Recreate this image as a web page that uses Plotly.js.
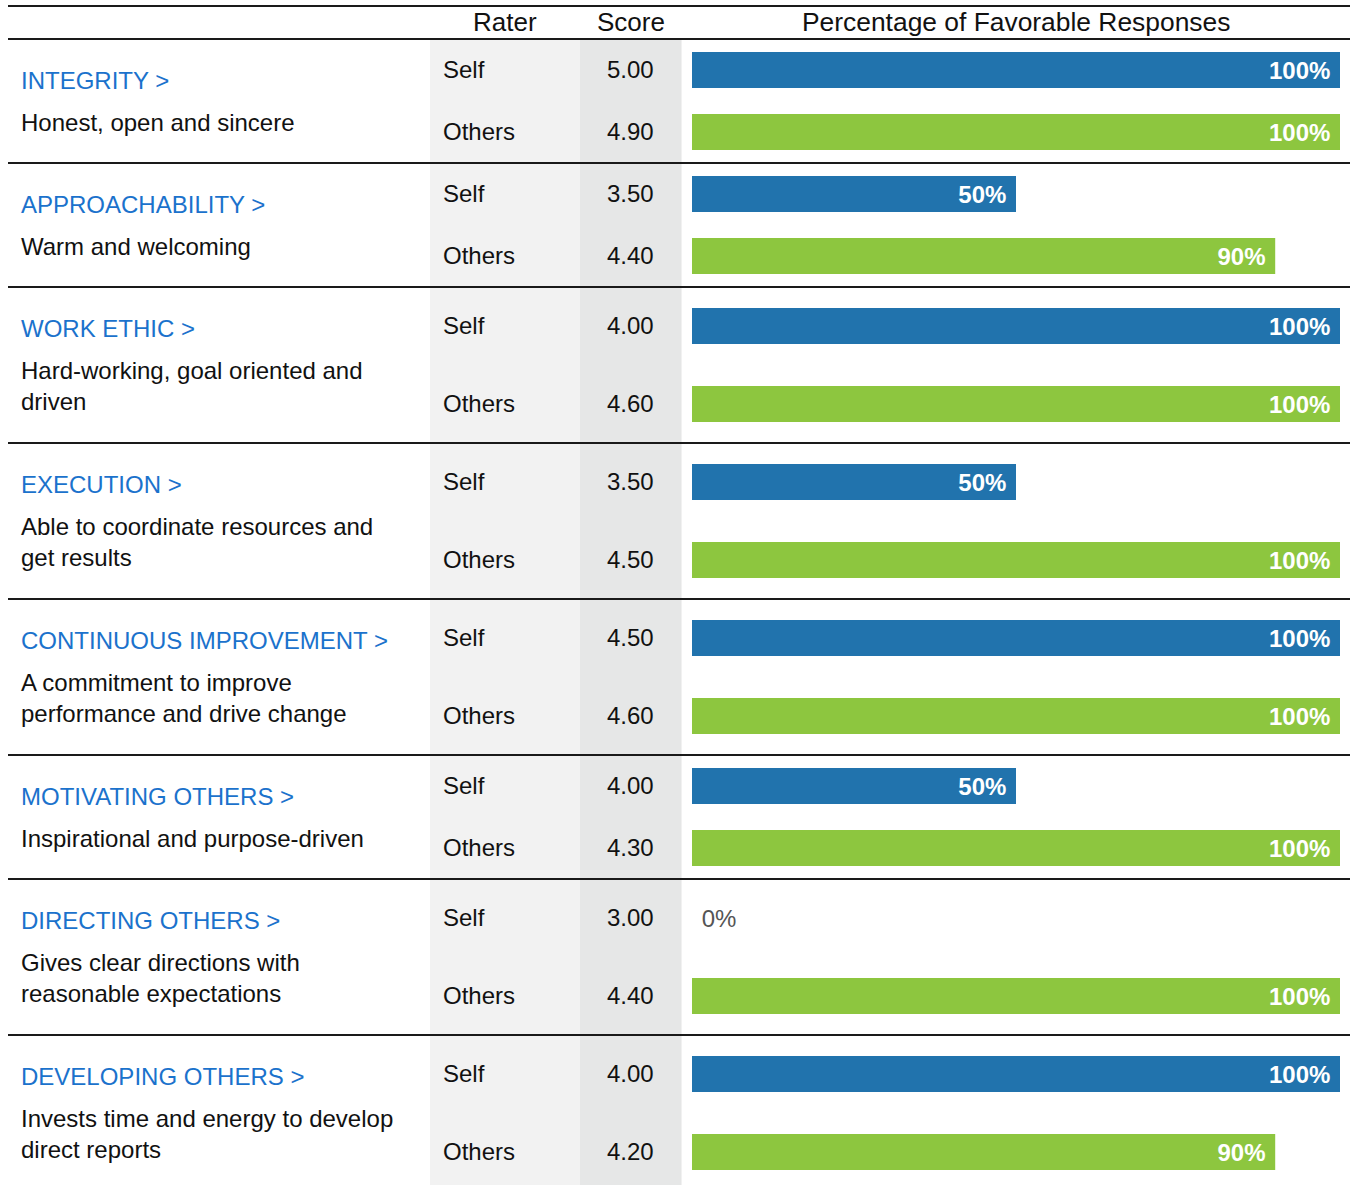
<!DOCTYPE html>
<html>
<head>
<meta charset="utf-8">
<script src="https://cdn.plot.ly/plotly-3.0.1.min.js"></script>
<style>html,body{margin:0;padding:0;background:#fff}#chart{width:1350px;height:1185px}</style>
</head>
<body>
<div id="chart"></div>
<script>
// ---- data ----
const categories = ["INTEGRITY", "APPROACHABILITY", "WORK ETHIC", "EXECUTION",
  "CONTINUOUS IMPROVEMENT", "MOTIVATING OTHERS", "DIRECTING OTHERS", "DEVELOPING OTHERS"];
const descriptions = [
  "Honest, open and sincere",
  "Warm and welcoming",
  "Hard-working, goal oriented and<br>driven",
  "Able to coordinate resources and<br>get results",
  "A commitment to improve<br>performance and drive change",
  "Inspirational and purpose-driven",
  "Gives clear directions with<br>reasonable expectations",
  "Invests time and energy to develop<br>direct reports"
];
const raters = ["Self", "Others"];
const selfScores = [5.00, 3.50, 4.00, 3.50, 4.50, 4.00, 3.00, 4.00];
const othersScores = [4.90, 4.40, 4.60, 4.50, 4.60, 4.30, 4.40, 4.20];
const selfPct = [100, 50, 100, 50, 100, 50, 0, 100];
const othersPct = [100, 90, 100, 100, 100, 100, 100, 90];
const headers = ["Rater", "Score", "Percentage of Favorable Responses"];

// ---- layout helpers ----
const W = 1350, H = 1185;
const FONT = "Liberation Sans, Arial, Helvetica, sans-serif";
const BLUE = "#2173ad", GREEN = "#8dc63f", TITLE_BLUE = "#1b72cc";
const headerTop = 6, headerBottom = 39;
const lineX0 = 8 / W;
const raterX0 = 430 / W, scoreX0 = 580 / W, barColX0 = 681 / W;
const NB = "\u00a0";

// group heights depend on number of description lines
const heights = descriptions.map(d => d.includes("<br>") ? 156 : 124);
const tops = [];
let acc = headerBottom;
heights.forEach(h => { tops.push(acc); acc += h; });
const selfY = tops.map((t, i) => t + heights[i] / 4);
const othersY = tops.map((t, i) => t + 3 * heights[i] / 4);

const label = v => v > 0 ? v + "%" + NB : NB + v + "%";

function barTrace(name, xs, ys, color) {
  return {
    type: "bar", orientation: "h", name: name,
    x: xs, y: ys, width: 36,
    marker: { color: color },
    text: xs.map(label),
    textposition: xs.map(v => v > 0 ? "inside" : "outside"),
    insidetextanchor: "end",
    insidetextfont: { family: FONT, size: 24, color: "#ffffff", weight: "bold" },
    outsidetextfont: { family: FONT, size: 24, color: "#555555" },
    constraintext: "none", cliponaxis: false,
    hoverinfo: "none", showlegend: false
  };
}
const traces = [
  barTrace(raters[0], selfPct, selfY, BLUE),
  barTrace(raters[1], othersPct, othersY, GREEN)
];

const shapes = [];
// gray columns
shapes.push({ type: "rect", xref: "paper", yref: "y", x0: raterX0, x1: scoreX0, y0: headerBottom, y1: H,
  fillcolor: "#f2f2f2", line: { width: 0 }, layer: "below" });
shapes.push({ type: "rect", xref: "paper", yref: "y", x0: scoreX0, x1: barColX0, y0: headerBottom, y1: H,
  fillcolor: "#e6e7e7", line: { width: 0 }, layer: "below" });
// faint left border of bar column
shapes.push({ type: "line", xref: "paper", yref: "y", x0: barColX0, x1: barColX0, y0: headerBottom, y1: H,
  line: { color: "#e4e4e4", width: 1 }, layer: "below" });
// horizontal rules
const rules = [headerTop, headerBottom].concat(tops.slice(1));
rules.forEach(y => shapes.push({ type: "line", xref: "paper", yref: "y", x0: lineX0, x1: 1, y0: y, y1: y,
  line: { color: "#1a1a1a", width: 2 }, layer: "above" }));

const annotations = [];
const txt = (text, x, y, anchor, size, color) => ({
  text: text, xref: "paper", yref: "y", x: x, y: y, xanchor: anchor, yanchor: "middle",
  showarrow: false, font: { family: FONT, size: size, color: color }, align: "left", borderpad: 0
});

// headers
annotations.push(txt(headers[0], 505 / W, 22, "center", 26, "#111"));
annotations.push(txt(headers[1], 630.5 / W, 22, "center", 26, "#111"));
annotations.push(txt(headers[2], 1016 / W, 22, "center", 26.4, "#111"));

categories.forEach((c, i) => {
  const t = tops[i];
  annotations.push(txt(c + " &gt;", 20 / W, t + 41, "left", 24, TITLE_BLUE));
  const twoLine = descriptions[i].includes("<br>");
  annotations.push(txt(descriptions[i], 20 / W, t + (twoLine ? 99 : 83), "left", 24, "#111"));
  annotations.push(txt(raters[0], 442 / W, selfY[i] - 1, "left", 24, "#111"));
  annotations.push(txt(raters[1], 442 / W, othersY[i] - 1, "left", 24, "#111"));
  annotations.push(txt(selfScores[i].toFixed(2), 630.5 / W, selfY[i] - 1, "center", 24, "#111"));
  annotations.push(txt(othersScores[i].toFixed(2), 630.5 / W, othersY[i] - 1, "center", 24, "#111"));
});

const layout = {
  width: W, height: H,
  margin: { l: 0, r: 0, t: 0, b: 0, pad: 0 },
  paper_bgcolor: "#ffffff", plot_bgcolor: "rgba(0,0,0,0)",
  xaxis: { domain: [692 / W, 1340 / W], range: [0, 100], visible: false, fixedrange: true },
  yaxis: { domain: [0, 1], range: [H, 0], visible: false, fixedrange: true },
  barmode: "overlay",
  shapes: shapes, annotations: annotations,
  font: { family: FONT }
};

Plotly.newPlot("chart", traces, layout, { staticPlot: true, displayModeBar: false });
</script>
</body>
</html>
